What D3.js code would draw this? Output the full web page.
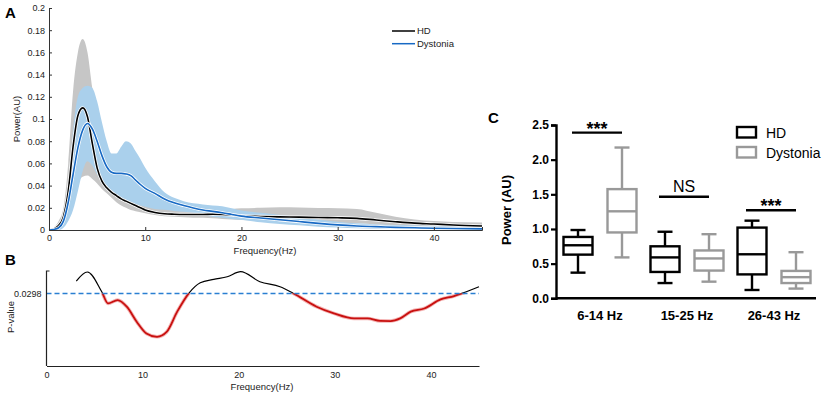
<!DOCTYPE html>
<html lang="en">
<head>
    <meta charset="UTF-8">
    <title>Power spectra</title>
    <script src="https://cdn.jsdelivr.net/npm/d3@7"></script>
    <style>
        body { margin: 0; background: #fff; }
        svg { font-family: "Liberation Sans", Arial, sans-serif; display: block; }
    </style>
</head>
<body>
<div id="chart-space"></div>
<script>
    // ---- panel A: mean spectra with error bands ----
    var freqA = [0, 0.5, 1, 1.5, 2, 2.5, 3, 3.5, 4, 4.5, 5, 5.5, 6, 6.5, 7, 7.5, 8, 8.5, 9, 9.5,
                 10, 11, 12, 13, 14, 15, 16, 17, 18, 19, 20, 22, 24, 26, 28, 30, 32, 34, 36, 38, 40, 42, 45];
    var hdMean = [0, 0.001, 0.004, 0.012, 0.035, 0.075, 0.103, 0.110, 0.102, 0.078, 0.056, 0.044, 0.038, 0.034, 0.031, 0.028, 0.026, 0.024, 0.022, 0.020,
                  0.018, 0.0158, 0.0146, 0.0142, 0.014, 0.014, 0.014, 0.0142, 0.014, 0.0135, 0.0128, 0.0122, 0.0118, 0.0116, 0.0112, 0.011, 0.0105, 0.009, 0.0075, 0.0062, 0.0054, 0.0045, 0.0036];
    var hdUpper = [0, 0.002, 0.008, 0.02, 0.06, 0.125, 0.160, 0.172, 0.160, 0.128, 0.105, 0.085, 0.07, 0.058, 0.05, 0.045, 0.04, 0.037, 0.034, 0.031,
                   0.028, 0.024, 0.021, 0.019, 0.018, 0.0175, 0.0175, 0.018, 0.0185, 0.019, 0.0195, 0.02, 0.0205, 0.0202, 0.0198, 0.0196, 0.019, 0.0155, 0.012, 0.0095, 0.008, 0.0072, 0.0068];
    var hdLower = [0, 0, 0.001, 0.004, 0.012, 0.028, 0.042, 0.048, 0.049, 0.046, 0.042, 0.037, 0.033, 0.029, 0.025, 0.022, 0.020, 0.018, 0.017, 0.016,
                   0.015, 0.0135, 0.0125, 0.012, 0.0115, 0.011, 0.011, 0.0105, 0.010, 0.0095, 0.009, 0.0085, 0.008, 0.0075, 0.007, 0.0065, 0.006, 0.005, 0.0042, 0.0035, 0.003, 0.0025, 0.002];
    var dysMean = [0, 0.0005, 0.002, 0.008, 0.025, 0.05, 0.074, 0.09, 0.096, 0.091, 0.08, 0.067, 0.057, 0.052, 0.051, 0.051, 0.0505, 0.049, 0.045, 0.041,
                   0.0375, 0.033, 0.028, 0.0245, 0.022, 0.0198, 0.018, 0.0168, 0.0155, 0.014, 0.0125, 0.0108, 0.0092, 0.0076, 0.006, 0.0046, 0.0036, 0.003, 0.0024, 0.002, 0.0016, 0.0013, 0.001];
    var dysUpper = [0, 0.001, 0.004, 0.014, 0.04, 0.09, 0.12, 0.128, 0.130, 0.128, 0.116, 0.097, 0.08, 0.069, 0.069, 0.075, 0.080, 0.078, 0.071, 0.064,
                    0.056, 0.044, 0.034, 0.029, 0.026, 0.024, 0.023, 0.022, 0.0215, 0.0195, 0.0175, 0.0155, 0.0135, 0.0115, 0.0095, 0.0075, 0.006, 0.005, 0.0045, 0.004, 0.0035, 0.0032, 0.003];
    var dysLower = [0, 0, 0, 0.002, 0.008, 0.018, 0.035, 0.053, 0.062, 0.058, 0.05, 0.043, 0.037, 0.034, 0.031, 0.029, 0.027, 0.025, 0.0235, 0.022,
                    0.021, 0.019, 0.0182, 0.0172, 0.0165, 0.0155, 0.0135, 0.012, 0.011, 0.010, 0.0092, 0.007, 0.0055, 0.0042, 0.003, 0.0022, 0.0015, 0.0012, 0.001, 0.0008, 0.0006, 0.0005, 0.0004];
    var ticksA = [0, 0.02, 0.04, 0.06, 0.08, 0.1, 0.12, 0.14, 0.16, 0.18, 0.2];
    var freqTicks = [0, 10, 20, 30, 40];
    var groupNames = ["HD", "Dystonia"];

    // ---- panel B: p-value along frequency ----
    var freqB = [3.1, 4.25, 5.75, 6.4, 7.4, 8.35, 9.4, 10.4, 11.5, 12.5, 13.6, 14.8, 16, 17.4, 18.8, 20.2,
                 22.2, 24.3, 25.7, 28.1, 29.9, 32, 33.4, 34.7, 35.8, 36.8, 37.9, 39.3, 41, 42.4, 43.2, 45];
    var pValues = [0.207, 0.855, 0.0385, 0.0062, 0.0104, 0.0037, 0.00034, 0.000056, 0.000033, 0.000071, 0.0017, 0.030, 0.159, 0.271, 0.408, 0.896,
                   0.186, 0.085, 0.0298, 0.0037, 0.0013, 0.00059, 0.00059, 0.0004, 0.00039, 0.00059, 0.0017, 0.0028, 0.0117, 0.0196, 0.0298, 0.085];
    var pThreshold = 0.0298;

    // ---- panel C: band power box plots ----
    var bands = ["6-14 Hz", "15-25 Hz", "26-43 Hz"];
    // [min, q1, median, q3, max]
    var hdBoxes = [[0.37, 0.63, 0.765, 0.885, 0.985], [0.22, 0.38, 0.59, 0.75, 0.96], [0.12, 0.345, 0.635, 1.02, 1.12]];
    var dysBoxes = [[0.59, 0.95, 1.255, 1.575, 2.175], [0.24, 0.40, 0.575, 0.69, 0.925], [0.14, 0.22, 0.305, 0.395, 0.665]];
    var sigLabels = ["***", "NS", "***"];
    var sigLevels = [2.39, 1.465, 1.27];
    var ticksC = [0, 0.5, 1, 1.5, 2, 2.5];

    var width = 825, height = 395;
    var svg = d3.select("#chart-space").append("svg")
        .attr("width", width).attr("height", height);

    var hdColor = "#000000", dysColor = "#1769c4";
    var hdBand = "#c6c6c6", dysBand = "#aad0ec";

    // ================= A =================
    var xA = d3.scaleLinear().domain([0, 45]).range([49, 482]);
    var yA = d3.scaleLinear().domain([0, 0.2]).range([230, 8]);

    function bandArea(lo, hi) {
        return d3.area()
            .x(function(d, i) { return xA(freqA[i]); })
            .y0(function(d, i) { return yA(lo[i]); })
            .y1(function(d, i) { return yA(hi[i]); })
            .curve(d3.curveMonotoneX);
    }
    var meanLine = d3.line()
        .x(function(d, i) { return xA(freqA[i]); })
        .y(function(d) { return yA(d); })
        .curve(d3.curveMonotoneX);

    svg.append("path").datum(freqA).attr("d", bandArea(hdLower, hdUpper)).attr("fill", hdBand);
    svg.append("path").datum(freqA).attr("d", bandArea(dysLower, dysUpper)).attr("fill", dysBand);

    [[hdMean, hdColor], [dysMean, dysColor]].forEach(function(s) {
        svg.append("path").datum(s[0]).attr("d", meanLine)
            .attr("fill", "none").attr("stroke", "#fff").attr("stroke-width", 3.2);
        svg.append("path").datum(s[0]).attr("d", meanLine)
            .attr("fill", "none").attr("stroke", s[1]).attr("stroke-width", 1.6);
    });

    var axA = svg.append("g").attr("transform", "translate(0,230)")
        .call(d3.axisBottom(xA).tickValues(freqTicks).tickSize(-3).tickPadding(5));
    var ayA = svg.append("g").attr("transform", "translate(49,0)")
        .call(d3.axisLeft(yA).tickValues(ticksA).tickSize(-3).tickPadding(4)
            .tickFormat(function(d) { return String(+d.toFixed(2)); }));
    [axA, ayA].forEach(function(g) {
        g.select(".domain").attr("stroke", "#333");
        g.selectAll(".tick line").attr("stroke", "#333");
        g.selectAll("text").attr("font-size", 9).attr("fill", "#222")
            .attr("font-family", "Liberation Sans, Arial, sans-serif");
    });

    svg.append("text").attr("x", 265).attr("y", 254).attr("text-anchor", "middle")
        .attr("font-size", 9.5).attr("fill", "#222").text("Frequency(Hz)");
    svg.append("text").attr("transform", "translate(20,119) rotate(-90)").attr("text-anchor", "middle")
        .attr("font-size", 9.5).attr("fill", "#222").text("Power(AU)");
    svg.append("text").attr("x", 5).attr("y", 18).attr("font-size", 15).attr("font-weight", "bold").text("A");

    // legend A
    var legA = svg.append("g");
    groupNames.forEach(function(n, i) {
        var y = 31 + i * 12.7;
        legA.append("line").attr("x1", 392).attr("x2", 415).attr("y1", y).attr("y2", y)
            .attr("stroke", i === 0 ? hdColor : dysColor).attr("stroke-width", 1.5);
        legA.append("text").attr("x", 417).attr("y", y + 3.3).attr("font-size", 9.5).attr("fill", "#222").text(n);
    });

    // ================= B =================
    var xB = d3.scaleLinear().domain([0, 45]).range([46.5, 479]);
    var yB = d3.scaleLog().domain([3.4e-7, 1]).range([366, 271]);

    var pLine = d3.line()
        .x(function(d, i) { return xB(freqB[i]); })
        .y(function(d) { return yB(d); })
        .curve(d3.curveMonotoneX);

    svg.append("clipPath").attr("id", "below")
        .append("rect").attr("x", 0).attr("width", width)
        .attr("y", yB(pThreshold)).attr("height", 366 - yB(pThreshold));

    svg.append("path").datum(pValues).attr("d", pLine)
        .attr("fill", "none").attr("stroke", "#000").attr("stroke-width", 1.2);
    svg.append("path").datum(pValues).attr("d", pLine).attr("clip-path", "url(#below)")
        .attr("fill", "none").attr("stroke", "#f4b4b4").attr("stroke-width", 3.6);
    svg.append("path").datum(pValues).attr("d", pLine).attr("clip-path", "url(#below)")
        .attr("fill", "none").attr("stroke", "#c8100f").attr("stroke-width", 1.8);

    svg.append("line").attr("x1", xB(0)).attr("x2", xB(45))
        .attr("y1", yB(pThreshold)).attr("y2", yB(pThreshold))
        .attr("stroke", "#2a7fd2").attr("stroke-width", 1.5).attr("stroke-dasharray", "5,3");

    var axB = svg.append("g").attr("transform", "translate(0,366)")
        .call(d3.axisBottom(xB).tickValues(freqTicks).tickSize(0).tickPadding(6));
    var ayB = svg.append("g").attr("transform", "translate(" + xB(0) + ",0)")
        .call(d3.axisLeft(yB).tickValues([pThreshold]).tickSize(0).tickPadding(5)
            .tickFormat(function() { return "0.0298"; }));
    ayB.select(".domain").attr("d", "M3,271H0V366");
    [axB, ayB].forEach(function(g) {
        g.select(".domain").attr("stroke", "#222").attr("stroke-width", 1.2);
        g.selectAll("text").attr("font-size", 9).attr("fill", "#222")
            .attr("font-family", "Liberation Sans, Arial, sans-serif");
    });

    svg.append("text").attr("x", 262).attr("y", 390).attr("text-anchor", "middle")
        .attr("font-size", 9.5).attr("fill", "#222").text("Frequency(Hz)");
    svg.append("text").attr("transform", "translate(14,317) rotate(-90)").attr("text-anchor", "middle")
        .attr("font-size", 9.5).attr("fill", "#222").text("P-value");
    svg.append("text").attr("x", 5).attr("y", 265).attr("font-size", 15).attr("font-weight", "bold").text("B");

    // ================= C =================
    var xC = d3.scaleBand().domain(bands).range([556.5, 817.5]);
    var yC = d3.scaleLinear().domain([0, 2.5]).range([298.3, 125]);
    var boxW = 29, off = 22, capW = 15;

    function drawBox(stats, cx, color) {
        var g = svg.append("g").attr("stroke", color).attr("stroke-width", 2.4).attr("fill", "none");
        g.append("line").attr("x1", cx).attr("x2", cx).attr("y1", yC(stats[0])).attr("y2", yC(stats[1]));
        g.append("line").attr("x1", cx).attr("x2", cx).attr("y1", yC(stats[3])).attr("y2", yC(stats[4]));
        g.append("line").attr("x1", cx - capW / 2).attr("x2", cx + capW / 2).attr("y1", yC(stats[0])).attr("y2", yC(stats[0]));
        g.append("line").attr("x1", cx - capW / 2).attr("x2", cx + capW / 2).attr("y1", yC(stats[4])).attr("y2", yC(stats[4]));
        g.append("rect").attr("x", cx - boxW / 2).attr("width", boxW)
            .attr("y", yC(stats[3])).attr("height", yC(stats[1]) - yC(stats[3]));
        g.append("line").attr("x1", cx - boxW / 2).attr("x2", cx + boxW / 2).attr("y1", yC(stats[2])).attr("y2", yC(stats[2]));
    }

    bands.forEach(function(b, i) {
        var c = xC(b) + xC.bandwidth() / 2;
        drawBox(hdBoxes[i], c - off, "#000");
        drawBox(dysBoxes[i], c + off, "#999");
        var y = yC(sigLevels[i]);
        svg.append("line").attr("x1", c - off - 6).attr("x2", c + off).attr("y1", y).attr("y2", y)
            .attr("stroke", "#000").attr("stroke-width", 2.4);
        var isNS = sigLabels[i] === "NS";
        svg.append("text").attr("x", c - 3).attr("y", isNS ? y - 5 : y + 2)
            .attr("text-anchor", "middle").attr("font-size", isNS ? 16 : 18)
            .attr("font-weight", isNS ? "normal" : "bold").text(sigLabels[i]);
    });

    var axC = svg.append("g").attr("transform", "translate(0,298.3)")
        .call(d3.axisBottom(xC).tickSize(0).tickPadding(12));
    axC.select(".domain").attr("d", "M556,0H816");
    var ayC = svg.append("g").attr("transform", "translate(556,0)")
        .call(d3.axisLeft(yC).tickValues(ticksC).tickSize(5).tickPadding(2).tickFormat(d3.format(".1f")));
    [axC, ayC].forEach(function(g) {
        g.select(".domain").attr("stroke", "#000").attr("stroke-width", 2.4);
        g.selectAll(".tick line").attr("stroke", "#000").attr("stroke-width", 2.2);
        g.selectAll("text").attr("font-size", 12).attr("font-weight", "bold").attr("fill", "#000")
            .attr("font-family", "Liberation Sans, Arial, sans-serif");
    });
    axC.selectAll("text").attr("font-size", 13);

    svg.append("text").attr("transform", "translate(511,210) rotate(-90)").attr("text-anchor", "middle")
        .attr("font-size", 13).attr("font-weight", "bold").text("Power (AU)");
    svg.append("text").attr("x", 488).attr("y", 123).attr("font-size", 15).attr("font-weight", "bold").text("C");

    // legend C
    groupNames.forEach(function(n, i) {
        var y = 127 + i * 20;
        svg.append("rect").attr("x", 737).attr("y", y).attr("width", 19).attr("height", 10.5)
            .attr("fill", "none").attr("stroke", i === 0 ? "#000" : "#999").attr("stroke-width", 2.4);
        svg.append("text").attr("x", 766).attr("y", y + 10.5).attr("font-size", 14).text(n);
    });
</script>
</body>
</html>
